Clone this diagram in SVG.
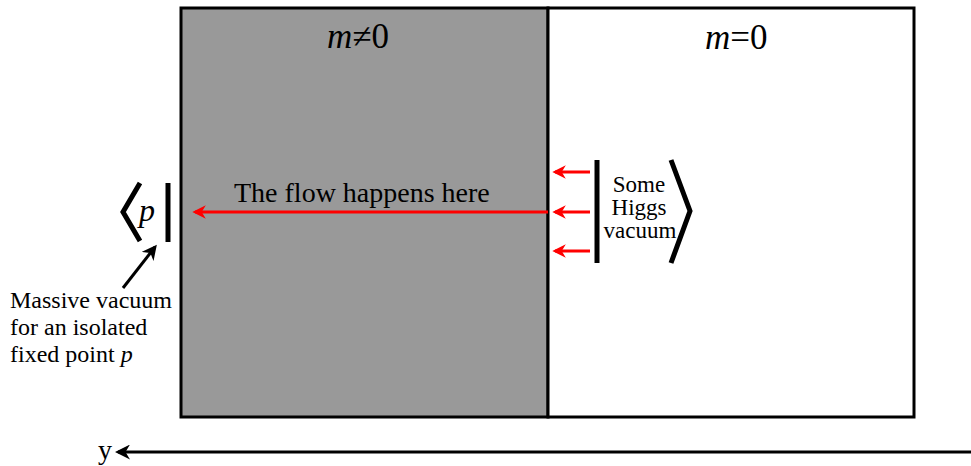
<svg xmlns="http://www.w3.org/2000/svg" width="971" height="466" viewBox="0 0 971 466">
<defs>
<marker id="redhead" viewBox="0 0 10 10" refX="8" refY="5" markerWidth="4.5" markerHeight="4.5" orient="auto" markerUnits="strokeWidth">
<path d="M0,0 L10,5 L0,10 L3,5 Z" fill="#ff0000"/>
</marker>
<marker id="blackhead" viewBox="0 0 10 10" refX="8" refY="5" markerWidth="5" markerHeight="5" orient="auto" markerUnits="strokeWidth">
<path d="M0,0 L10,5 L0,10 L3,5 Z" fill="#000"/>
</marker>
</defs>
<style>
.serif{font-family:"Liberation Serif","DejaVu Serif",serif;fill:#000}
.red{stroke:#ff0000;stroke-width:3;fill:none}
.blk{stroke:#000;fill:none}
</style>
<rect width="971" height="466" fill="#fff"/>
<g id="massive-region">
<rect x="181" y="8" width="367" height="409" fill="#999999" stroke="#000" stroke-width="3"/>
<text class="serif" x="327" y="48" font-size="35"><tspan font-style="italic">m</tspan>≠0</text>
</g>
<g id="massless-region">
<rect x="548" y="8" width="366" height="409" fill="#fff" stroke="#000" stroke-width="3"/>
<text class="serif" x="705" y="49" font-size="35"><tspan font-style="italic">m</tspan>=0</text>
</g>
<g id="massive-vacuum">
<polyline class="blk" points="140,183 123,212 140,241" stroke-width="5"/>
<text class="serif" x="139" y="221" font-size="32" font-style="italic">p</text>
<line class="blk" x1="168" y1="183" x2="168" y2="242" stroke-width="5"/>
</g>
<g id="higgs-vacuum">
<line class="blk" x1="597" y1="160" x2="597" y2="263" stroke-width="5"/>
<text class="serif" font-size="23" text-anchor="middle"><tspan x="639" y="192">Some</tspan><tspan x="639" y="215">Higgs</tspan><tspan x="640" y="238">vacuum</tspan></text>
<polyline class="blk" points="671,160 690,211 671,263" stroke-width="5"/>
</g>
<g id="massive-label">
<text class="serif" font-size="24"><tspan x="10" y="308">Massive vacuum</tspan><tspan x="10" y="335">for an isolated</tspan><tspan x="10" y="362">fixed point <tspan font-style="italic">p</tspan></tspan></text>
</g>
<g id="flow-label">
<text class="serif" x="234" y="202" font-size="28">The flow happens here</text>
</g>
<g id="y-label">
<text class="serif" x="98" y="459" font-size="28">y</text>
</g>
<g id="connectors">
<line class="red" x1="548" y1="212" x2="195" y2="212" marker-end="url(#redhead)"/>
<line class="red" x1="590" y1="172" x2="555" y2="172" marker-end="url(#redhead)"/>
<line class="red" x1="590" y1="212" x2="555" y2="212" marker-end="url(#redhead)"/>
<line class="red" x1="590" y1="251" x2="555" y2="251" marker-end="url(#redhead)"/>
<line class="blk" x1="123" y1="288" x2="155" y2="247" stroke-width="3" marker-end="url(#blackhead)"/>
<line class="blk" x1="971" y1="452" x2="118" y2="452" stroke-width="3" marker-end="url(#blackhead)"/>
</g>
</svg>
